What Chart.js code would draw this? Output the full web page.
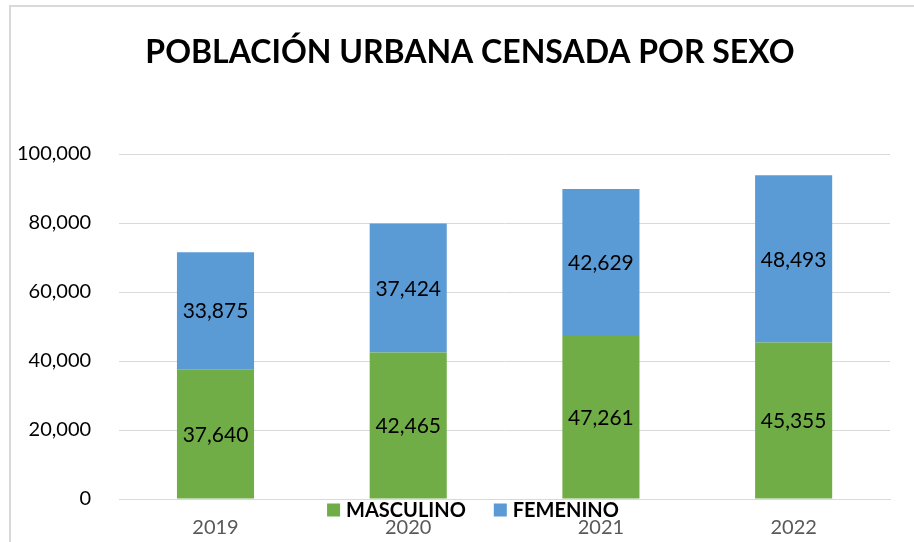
<!DOCTYPE html>
<html>
<head>
<meta charset="utf-8">
<script src="https://cdn.jsdelivr.net/npm/chart.js@4"></script>
<style>
  body { margin: 0; background: #fff; }
  #wrap { width: 914px; height: 542px; }
</style>
</head>
<body>
<div id="wrap"><canvas id="censoChart" width="914" height="542"></canvas></div>
<script>
var chartTitle = "POBLACIÓN URBANA CENSADA POR SEXO";
var years = ["2019", "2020", "2021", "2022"];
var masculino = [37640, 42465, 47261, 45355];
var femenino = [33875, 37424, 42629, 48493];
var yTicks = [0, 20000, 40000, 60000, 80000, 100000];

var fmt = function (v) {
  return v.toString().replace(/\B(?=(\d{3})+(?!\d))/g, ",");
};

// frame + title, like the office export (title is a bit right of centre)
var framePlugin = {
  id: "frame",
  beforeDraw: function (chart) {
    var ctx = chart.ctx;
    ctx.save();
    ctx.strokeStyle = "#d9d9d9";
    ctx.lineWidth = 2;
    ctx.beginPath();
    ctx.moveTo(10, 542);
    ctx.lineTo(10, 6);
    ctx.lineTo(914, 6);
    ctx.stroke();
    ctx.font = "bold 32px Lato";
    ctx.fillStyle = "#000";
    ctx.textAlign = "center";
    ctx.textBaseline = "alphabetic";
    ctx.fillText(chartTitle, 470, 63);
    ctx.restore();
  }
};

// value labels in the middle of each segment
var labelsPlugin = {
  id: "segLabels",
  afterDatasetsDraw: function (chart) {
    var ctx = chart.ctx;
    ctx.save();
    ctx.font = "21px Lato";
    ctx.fillStyle = "#000";
    ctx.textAlign = "center";
    ctx.textBaseline = "middle";
    chart.data.datasets.forEach(function (ds, i) {
      chart.getDatasetMeta(i).data.forEach(function (bar, j) {
        var mid = (bar.y + bar.base) / 2;
        ctx.fillText(fmt(ds.data[j]), bar.x, mid + 1);
      });
    });
    ctx.restore();
  }
};

// legend sits between the axis and the year labels
var legendPlugin = {
  id: "midLegend",
  afterDraw: function (chart) {
    var ctx = chart.ctx;
    var items = chart.data.datasets;
    var y = chart.chartArea.bottom + 11;
    ctx.save();
    ctx.font = "bold 20px Lato";
    ctx.textBaseline = "middle";
    var box = 13, gap = 6, space = 28;
    var total = 0;
    items.forEach(function (ds, i) {
      total += box + gap + ctx.measureText(ds.label).width + (i < items.length - 1 ? space : 0);
    });
    var x = 473 - total / 2;
    items.forEach(function (ds) {
      ctx.fillStyle = ds.backgroundColor;
      ctx.fillRect(x, y - box / 2, box, box);
      x += box + gap;
      ctx.fillStyle = "#000";
      ctx.fillText(ds.label, x, y + 1);
      x += ctx.measureText(ds.label).width + space;
    });
    ctx.restore();
  }
};

new Chart("censoChart", {
  type: "bar",
  data: {
    labels: years,
    datasets: [
      {
        label: "MASCULINO",
        data: masculino,
        backgroundColor: "#70ad47",
        barPercentage: 0.8,
        categoryPercentage: 0.5
      },
      {
        label: "FEMENINO",
        data: femenino,
        backgroundColor: "#5b9bd5",
        barPercentage: 0.8,
        categoryPercentage: 0.5
      }
    ]
  },
  options: {
    responsive: false,
    animation: false,
    layout: {
      padding: { top: 154, right: 24, left: -11, bottom: -7 }
    },
    plugins: {
      legend: { display: false },
      tooltip: { enabled: false },
      title: { display: false }
    },
    scales: {
      x: {
        stacked: true,
        grid: { display: false },
        border: { color: "#d9d9d9", width: 1 },
        ticks: {
          color: "#595959",
          padding: 9,
          font: { family: "Lato", size: 20 }
        }
      },
      y: {
        stacked: true,
        min: 0,
        max: 100000,
        afterBuildTicks: function (axis) {
          axis.ticks = yTicks.map(function (v) { return { value: v }; });
        },
        grid: { color: "#d9d9d9", drawTicks: false },
        border: { display: false },
        ticks: {
          color: "#000",
          padding: 28,
          font: { family: "Lato", size: 20 },
          callback: function (v) { return fmt(v); }
        }
      }
    }
  },
  plugins: [framePlugin, labelsPlugin, legendPlugin]
});
</script>
</body>
</html>
